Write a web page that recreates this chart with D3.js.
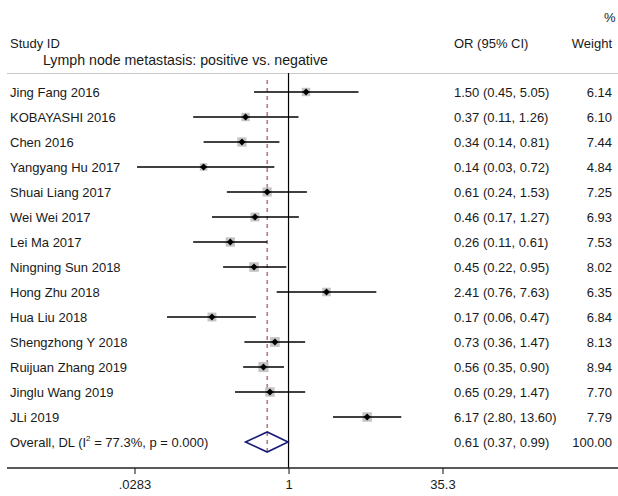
<!DOCTYPE html>
<html>
<head>
<meta charset="utf-8">
<script src="https://cdn.jsdelivr.net/npm/d3@7"></script>
<style>
  body { margin: 0; background: #fff; }
  text { font-family: "Liberation Sans", Arial, sans-serif; font-size: 13px; fill: #1a1a1a; }
</style>
</head>
<body>
<div id="chart"></div>
<script>
const studies = ["Jing Fang 2016", "KOBAYASHI 2016", "Chen 2016", "Yangyang Hu 2017", "Shuai Liang 2017",
  "Wei Wei 2017", "Lei Ma 2017", "Ningning Sun 2018", "Hong Zhu 2018", "Hua Liu 2018",
  "Shengzhong Y 2018", "Ruijuan Zhang 2019", "Jinglu Wang 2019", "JLi 2019"];
const or = [1.50, 0.37, 0.34, 0.14, 0.61, 0.46, 0.26, 0.45, 2.41, 0.17, 0.73, 0.56, 0.65, 6.17];
const lower = [0.45, 0.11, 0.14, 0.03, 0.24, 0.17, 0.11, 0.22, 0.76, 0.06, 0.36, 0.35, 0.29, 2.80];
const upper = [5.05, 1.26, 0.81, 0.72, 1.53, 1.27, 0.61, 0.95, 7.63, 0.47, 1.47, 0.90, 1.47, 13.60];
const weights = [6.14, 6.10, 7.44, 4.84, 7.25, 6.93, 7.53, 8.02, 6.35, 6.84, 8.13, 8.94, 7.70, 7.79];
const overall = {or: 0.61, lower: 0.37, upper: 0.99, weight: 100.00};
const ticks = [0.0283, 1, 35.3];
const tickLabels = [".0283", "1", "35.3"];

const W = 618, H = 496;
const svg = d3.select("#chart").append("svg")
  .attr("width", W).attr("height", H);

const x = d3.scaleLog()
  .domain([0.0283, 35.3])
  .range([134.5, 442.5]);

const y = d3.scalePoint()
  .domain(d3.range(studies.length + 1))
  .range([92, 442]);

const fmt = d3.format(".2f");

// header
svg.append("text").attr("x", 604).attr("y", 22).text("%");
svg.append("text").attr("x", 10).attr("y", 48).text("Study ID");
svg.append("text").attr("x", 454).attr("y", 48).text("OR (95% CI)");
svg.append("text").attr("x", 612).attr("y", 48).attr("text-anchor", "end").text("Weight");
svg.append("text").attr("x", 43).attr("y", 65).style("font-size", "14.2px")
  .text("Lymph node metastasis: positive vs. negative");

svg.append("line")
  .attr("x1", 7).attr("x2", W).attr("y1", 73.5).attr("y2", 73.5)
  .attr("stroke", "#c8c8c8").attr("stroke-width", 1.2);

// null line
svg.append("line")
  .attr("x1", x(1)).attr("x2", x(1)).attr("y1", 73).attr("y2", 468)
  .attr("stroke", "#000").attr("stroke-width", 1.2);

// overall dashed line
svg.append("line")
  .attr("x1", x(overall.or)).attr("x2", x(overall.or)).attr("y1", 80).attr("y2", 453)
  .attr("stroke", "#a0505a").attr("stroke-width", 1.2).attr("stroke-dasharray", "4,4");

const rows = svg.selectAll(".study")
  .data(studies.map((s, i) => ({name: s, or: or[i], lo: lower[i], hi: upper[i], w: weights[i], i: i})))
  .enter().append("g")
  .attr("class", "study")
  .attr("transform", d => "translate(0," + y(d.i) + ")");

rows.append("text").attr("x", 10).attr("y", 5).text(d => d.name);

rows.append("rect")
  .attr("x", d => x(d.or) - 3.4 * Math.sqrt(d.w) / 2)
  .attr("y", d => -3.4 * Math.sqrt(d.w) / 2)
  .attr("width", d => 3.4 * Math.sqrt(d.w))
  .attr("height", d => 3.4 * Math.sqrt(d.w))
  .attr("fill", "#c4c4c4");

rows.append("line")
  .attr("x1", d => x(d.lo)).attr("x2", d => x(d.hi))
  .attr("y1", 0).attr("y2", 0)
  .attr("stroke", "#000").attr("stroke-width", 1.5);

rows.append("path")
  .attr("d", d => "M" + (x(d.or) - 3.5) + ",0L" + x(d.or) + ",-3.5L" + (x(d.or) + 3.5) + ",0L" + x(d.or) + ",3.5Z")
  .attr("fill", "#000");

rows.append("text").attr("x", 454).attr("y", 5)
  .text(d => fmt(d.or) + " (" + fmt(d.lo) + ", " + fmt(d.hi) + ")");
rows.append("text").attr("x", 612).attr("y", 5).attr("text-anchor", "end")
  .text(d => fmt(d.w));

// overall row
const oy = y(studies.length);
const ot = svg.append("text").attr("x", 10).attr("y", oy + 5);
ot.append("tspan").text("Overall, DL (I");
ot.append("tspan").attr("dy", -6).style("font-size", "8px").text("2");
ot.append("tspan").attr("dy", 6).text(" = 77.3%, p = 0.000)");

svg.append("path")
  .attr("d", "M" + x(overall.lower) + "," + oy + "L" + x(overall.or) + "," + (oy - 10) +
    "L" + x(overall.upper) + "," + oy + "L" + x(overall.or) + "," + (oy + 10) + "Z")
  .attr("fill", "none").attr("stroke", "#1a1a7a").attr("stroke-width", 1.6);

svg.append("text").attr("x", 454).attr("y", oy + 5)
  .text(fmt(overall.or) + " (" + fmt(overall.lower) + ", " + fmt(overall.upper) + ")");
svg.append("text").attr("x", 612).attr("y", oy + 5).attr("text-anchor", "end")
  .text(fmt(overall.weight));

// axis
const axis = svg.append("g")
  .attr("transform", "translate(0,468)")
  .call(d3.axisBottom(x).tickValues(ticks).tickFormat((d, i) => tickLabels[i]).tickSize(6).tickSizeOuter(0));
axis.select(".domain").remove();
axis.selectAll(".tick line").attr("stroke", "#333").attr("stroke-width", 1.2);
axis.selectAll(".tick text").attr("dy", null).attr("y", 21)
  .style("font-family", "'Liberation Sans', Arial, sans-serif").style("font-size", "13px").attr("fill", "#1a1a1a");
svg.append("line")
  .attr("x1", 7).attr("x2", W).attr("y1", 468).attr("y2", 468)
  .attr("stroke", "#222").attr("stroke-width", 1.4);
</script>
</body>
</html>
